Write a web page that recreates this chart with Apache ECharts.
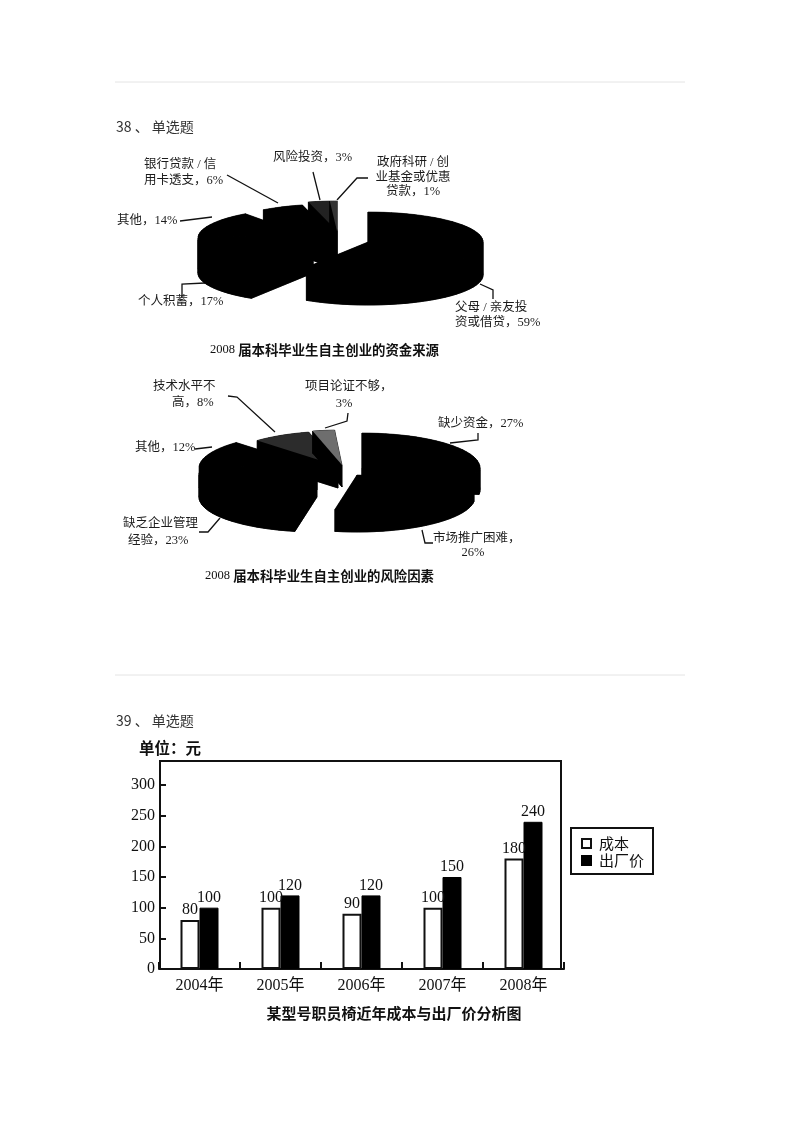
<!DOCTYPE html>
<html>
<head>
<meta charset="utf-8">
<style>html,body{margin:0;padding:0;background:#fff}#c{width:800px;height:1132px}</style>
<script src="https://cdn.jsdelivr.net/npm/echarts@6/dist/echarts.min.js"></script>
</head>
<body>
<div id="c"></div>
<script>
// ---- data ----
const fundNames = ['父母/亲友投资或借贷', '个人积蓄', '其他', '银行贷款/信用卡透支', '风险投资', '政府科研/创业基金或优惠贷款'];
const fundValues = [59, 17, 14, 6, 3, 1];
const riskNames = ['缺少资金', '市场推广困难', '缺乏企业管理经验', '其他', '技术水平不高', '项目论证不够'];
const riskValues = [27, 26, 23, 12, 8, 3];
const years = ['2004年', '2005年', '2006年', '2007年', '2008年'];
const costValues = [80, 100, 90, 100, 180];
const priceValues = [100, 120, 120, 150, 240];
const yTicks = [0, 50, 100, 150, 200, 250, 300];

// ---- 3D pie look (placement of each exploded slice, not data) ----
const fundPie = { start: 0, rx: 115, ry: 30, depth: 33,
  apex: [[368, 242], [313, 240], [313, 238], [331, 234], [337, 231], [337, 231]],
  top: ['#000', '#000', '#000', '#000', '#222', '#333'] };
const riskPie = { start: 0, rx: 118, ry: 35, depth: 22,
  apex: [[362, 468], [357, 475], [317, 475], [317, 468], [338, 466], [342, 465]],
  top: ['#000', '#000', '#000', '#000', '#2c2c2c', '#6e6e6e'] };

function pieSeries(name, names, values, look) {
  return {
    type: 'custom', name: name, coordinateSystem: 'none', silent: true, clip: false,
    data: values.map((v, i) => ({ name: names[i], value: [v] })),
    renderItem: function (params, api) {
      const i = params.dataIndex;
      let before = 0;
      for (let k = 0; k < i; k++) before += values[k];
      const a0 = look.start + before * 3.6;
      const a1 = a0 + api.value(0) * 3.6;
      const ax = look.apex[i][0], ay = look.apex[i][1];
      const pts = [[ax, ay]];
      const steps = Math.max(3, Math.ceil((a1 - a0) / 4));
      for (let s = 0; s <= steps; s++) {
        const t = (a0 + (a1 - a0) * s / steps) * Math.PI / 180;
        pts.push([ax + look.rx * Math.sin(t), ay - look.ry * Math.cos(t)]);
      }
      const kids = [];
      const wall = { fill: '#000', stroke: '#000', lineWidth: 0.6 };
      for (let p = 0; p < pts.length; p++) {
        const u = pts[p], w = pts[(p + 1) % pts.length];
        kids.push({ type: 'polygon', shape: { points: [u, w, [w[0], w[1] + look.depth], [u[0], u[1] + look.depth]] }, style: wall });
      }
      kids.push({ type: 'polygon', shape: { points: pts.map(q => [q[0], q[1] + look.depth]) }, style: wall });
      kids.push({ type: 'polygon', shape: { points: pts }, style: { fill: look.top[i] } });
      return { type: 'group', children: kids };
    }
  };
}

// ---- annotations ----
const cap = 'Liberation Serif, Noto Sans CJK SC';
const cjk = 'Noto Sans CJK SC';
function label(text, x, y, align) {
  return { type: 'text', x: x, y: y, silent: true, style: { text: text, x: 0, y: 0, fill: '#1c1c1c', font: '12.5px ' + cap, align: align || 'left', verticalAlign: 'middle' } };
}
function leader(points) {
  return { type: 'polyline', silent: true, shape: { points: points }, style: { stroke: '#111', lineWidth: 1.3, fill: null } };
}
function rule(y) {
  return { type: 'line', silent: true, shape: { x1: 115, y1: y, x2: 685, y2: y }, style: { stroke: '#e4e4e4', lineWidth: 1 } };
}
function head(text, y) {
  return { type: 'text', x: 116, y: y, silent: true, style: { text: text, fill: '#333', font: '14px ' + cjk, verticalAlign: 'middle' } };
}
function caption(text, x, y) {
  return { type: 'text', x: x, y: y, silent: true, style: {
    text: '{a|2008 }{b|' + text + '}', verticalAlign: 'middle',
    rich: { a: { font: '12.5px ' + cap, fill: '#111' }, b: { font: 'bold 13.4px ' + cjk, fill: '#111' } } } };
}
const graphics = [
  rule(82), rule(675),
  head('38 、 单选题', 127), head('39 、 单选题', 721),
  label('银行贷款 / 信', 144, 165), label('用卡透支，6%', 144, 181),
  label('风险投资，3%', 273, 158),
  label('政府科研 / 创', 413, 163, 'center'), label('业基金或优惠', 413, 178, 'center'), label('贷款，1%', 413, 192, 'center'),
  label('其他，14%', 117, 221), label('个人积蓄，17%', 138, 302),
  label('父母 / 亲友投', 455, 308), label('资或借贷，59%', 455, 323),
  leader([[227, 175], [278, 203]]), leader([[313, 172], [320, 200]]),
  leader([[368, 178], [357, 178], [337, 200]]), leader([[180, 221], [212, 217]]),
  leader([[182, 297], [182, 284], [205, 283]]), leader([[493, 299], [493, 290], [480, 284]]),
  caption('届本科毕业生自主创业的资金来源', 210, 350),
  label('技术水平不', 153, 387), label('高，8%', 172, 403),
  label('项目论证不够，', 305, 387), label('3%', 344, 404, 'center'),
  label('缺少资金，27%', 438, 424), label('其他，12%', 135, 448),
  label('缺乏企业管理', 123, 524), label('经验，23%', 128, 541),
  label('市场推广困难，', 433, 539), label('26%', 473, 553, 'center'),
  leader([[228, 396], [237, 397], [275, 432]]), leader([[325, 428], [347, 421], [348, 413]]),
  leader([[450, 443], [478, 440], [478, 433]]), leader([[195, 449], [212, 447]]),
  leader([[199, 532], [208, 532], [220, 518]]), leader([[422, 530], [425, 543], [433, 543]]),
  caption('届本科毕业生自主创业的风险因素', 205, 576),
  { type: 'text', x: 139, y: 748, silent: true, style: { text: '单位：元', fill: '#111', font: 'bold 15.5px ' + cjk, verticalAlign: 'middle' } },
  { type: 'rect', silent: true, z: -1, shape: { x: 160, y: 761, width: 401, height: 208 }, style: { fill: null, stroke: '#111', lineWidth: 2 } },
  { type: 'text', x: 394, y: 1013, silent: true, style: { text: '某型号职员椅近年成本与出厂价分析图', fill: '#111', font: 'bold 15px ' + cjk, align: 'center', verticalAlign: 'middle' } }
];

const barLabel = { show: true, position: 'top', distance: 2, color: '#111', fontFamily: 'Liberation Serif', fontSize: 16 };

const chart = echarts.init(document.getElementById('c'), null, { renderer: 'canvas' });
chart.setOption({
  animation: false,
  backgroundColor: '#fff',
  graphic: graphics,
  legend: {
    data: [{ name: '成本', icon: 'rect' }, { name: '出厂价', icon: 'rect' }], orient: 'vertical', left: 571, top: 828,
    padding: [8, 9, 6, 10], itemWidth: 9, itemHeight: 9, itemGap: 2,
    borderColor: '#111', borderWidth: 2, selectedMode: false,
    textStyle: { fontFamily: cjk, fontSize: 15, color: '#111', padding: [0, 0, 0, 3] }
  },
  grid: { left: 159, top: 785, width: 405, height: 184, containLabel: false },
  xAxis: {
    type: 'category', data: years,
    axisLine: { show: true, lineStyle: { color: '#111', width: 2 } },
    axisTick: { show: true, inside: true, length: 7, lineStyle: { color: '#111', width: 2 } },
    axisLabel: { color: '#111', fontFamily: cap, fontSize: 16, margin: 9 }
  },
  yAxis: {
    type: 'value', min: yTicks[0], max: yTicks[yTicks.length - 1], interval: yTicks[1] - yTicks[0],
    axisLine: { show: false }, splitLine: { show: false },
    axisTick: { show: true, inside: true, length: 7, lineStyle: { color: '#111', width: 2 } },
    axisLabel: { color: '#111', fontFamily: 'Liberation Serif', fontSize: 16, margin: 4 }
  },
  series: [
    { type: 'bar', name: '成本', data: costValues, barWidth: 19, barGap: 0,
      itemStyle: { color: '#fff', borderColor: '#111', borderWidth: 2 }, label: barLabel },
    { type: 'bar', name: '出厂价', data: priceValues, barWidth: 19, barGap: 0,
      itemStyle: { color: '#000', borderColor: '#000', borderWidth: 1 }, label: barLabel },
    pieSeries('2008届本科毕业生自主创业的资金来源', fundNames, fundValues, fundPie),
    pieSeries('2008届本科毕业生自主创业的风险因素', riskNames, riskValues, riskPie)
  ]
});
</script>
</body>
</html>
